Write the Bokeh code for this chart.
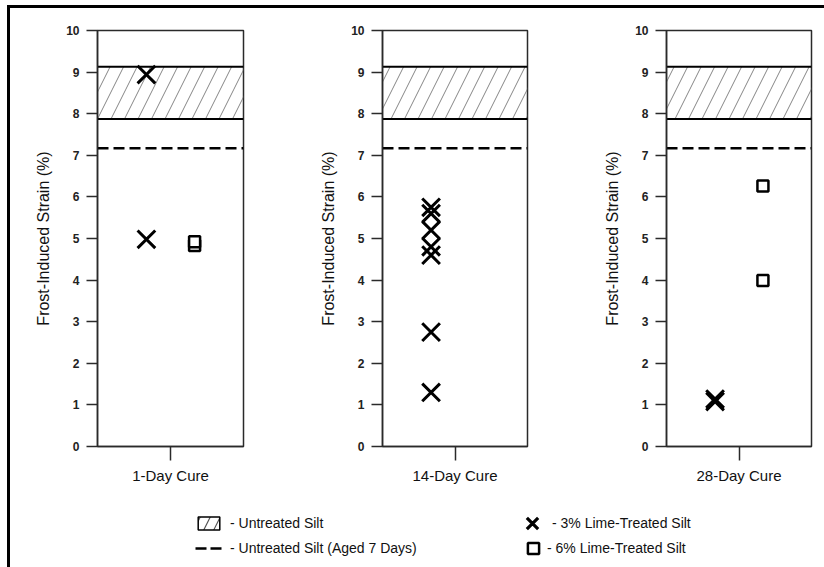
from bokeh.plotting import figure
from bokeh.models import (FactorRange, Range1d, FixedTicker, Span, BoxAnnotation,
                          Legend, LegendItem, Spacer, ColumnDataSource)
from bokeh.layouts import row, column
from bokeh.transform import dodge
from bokeh.embed import file_html
from bokeh.resources import INLINE

# ---------------- data ----------------
cures = ["1-Day Cure", "14-Day Cure", "28-Day Cure"]
y_ticks = [0, 1, 2, 3, 4, 5, 6, 7, 8, 9, 10]

lime3_1day = [8.94, 4.98]
lime3_14day = [5.75, 5.6, 5.2, 4.8, 4.6, 2.75, 1.3]
lime3_28day = [1.08, 1.14]

lime6_1day = [4.83, 4.92]
lime6_14day = []
lime6_28day = [6.26, 3.99]

untreated_low = 7.87
untreated_high = 9.13
untreated_aged = 7.17

legend_labels = ["- Untreated Silt", "- Untreated Silt (Aged 7 Days)",
                 "- 3% Lime-Treated Silt", "- 6% Lime-Treated Silt"]
y_label = "Frost-Induced Strain (%)"

lime3 = [lime3_1day, lime3_14day, lime3_28day]
lime6 = [lime6_1day, lime6_14day, lime6_28day]

FONT = "Liberation Sans"
AX = "#2a2a2a"

def panel(i, width, left, right):
    cure = cures[i]
    p = figure(width=width, height=487, x_range=FactorRange(factors=[cure]),
               y_range=Range1d(0, 10), output_backend="svg", toolbar_location=None,
               min_border_left=left, min_border_right=right,
               min_border_top=22, min_border_bottom=49)
    p.xgrid.visible = False
    p.ygrid.visible = False
    p.outline_line_color = AX
    p.outline_line_width = 1.5
    p.background_fill_color = "white"
    p.border_fill_color = "white"

    # untreated band and aged line
    p.add_layout(BoxAnnotation(bottom=untreated_low, top=untreated_high,
                               fill_alpha=0, line_alpha=0, hatch_pattern="/",
                               hatch_color="#777777", hatch_weight=0.9,
                               hatch_scale=27, level="underlay"))
    for loc in (untreated_low, untreated_high):
        p.add_layout(Span(location=loc, dimension="width", line_color="black",
                          line_width=2, level="underlay"))
    p.add_layout(Span(location=untreated_aged, dimension="width", line_color="black",
                      line_width=2.5, line_dash="11 5", level="underlay"))

    if lime3[i]:
        s3 = ColumnDataSource(dict(cure=[cure] * len(lime3[i]), strain=lime3[i]))
        p.scatter(x=dodge("cure", -0.165, range=p.x_range), y="strain", source=s3,
                  marker="x", size=25, line_color="black", line_width=3)
    if lime6[i]:
        s6 = ColumnDataSource(dict(cure=[cure] * len(lime6[i]), strain=lime6[i]))
        p.scatter(x=dodge("cure", 0.165, range=p.x_range), y="strain", source=s6,
                  marker="square", size=11, line_color="black", line_width=2.5,
                  fill_color="white")

    ya = p.yaxis[0]
    ya.ticker = FixedTicker(ticks=y_ticks)
    ya.minor_tick_line_color = None
    ya.major_tick_in = 0
    ya.major_tick_out = 11
    ya.major_tick_line_color = AX
    ya.major_tick_line_width = 1.5
    ya.axis_line_color = AX
    ya.axis_line_width = 1.5
    ya.major_label_standoff = 7
    ya.major_label_text_font = FONT
    ya.major_label_text_font_size = "12px"
    ya.major_label_text_font_style = "bold"
    ya.major_label_text_color = "#222222"
    ya.axis_label = y_label
    ya.axis_label_text_font = FONT
    ya.axis_label_text_font_size = "16px"
    ya.axis_label_text_font_style = "normal"
    ya.axis_label_text_color = "#111111"
    ya.axis_label_standoff = 11

    xa = p.xaxis[0]
    xa.major_tick_in = 0
    xa.major_tick_out = 14
    xa.major_tick_line_color = AX
    xa.major_tick_line_width = 1.5
    xa.axis_line_color = AX
    xa.axis_line_width = 1.5
    xa.major_label_standoff = 6
    xa.major_label_text_font = FONT
    xa.major_label_text_font_size = "15px"
    xa.major_label_text_color = "#111111"
    return p

p1 = panel(0, 280, 87, 47)
p2 = panel(1, 284, 92, 47)
p3 = panel(2, 250, 92, 13)

# ---------------- legend area ----------------
lf = figure(width=814, height=72, x_range=Range1d(0, 1), y_range=Range1d(0, 1),
            output_backend="svg", toolbar_location=None, min_border=0)
lf.axis.visible = False
lf.xgrid.visible = False
lf.ygrid.visible = False
lf.outline_line_color = None

# legend-only renderers: one sample each, kept outside the visible range
r_hatch = lf.quad(left=[-3], right=[-2], top=[-2], bottom=[-3], fill_color="white",
                  hatch_pattern="/", hatch_color="#555555", hatch_weight=1.2,
                  hatch_scale=20, line_color="black", line_width=1.5)
r_dash = lf.line(x=[-3, -2], y=[-3, -3], line_color="black", line_width=2.5,
                 line_dash="11 4")
r_x = lf.scatter(x=[-3], y=[-3], marker="x", line_color="black", line_width=3.2)
r_sq = lf.scatter(x=[-3], y=[-3], marker="square", line_color="black", line_width=2.5,
                  fill_color="white")

def style_legend(lg):
    lg.padding = 0
    lg.border_line_color = None
    lg.background_fill_alpha = 0
    lg.label_text_font = FONT
    lg.label_text_font_size = "14px"
    lg.label_text_color = "#111111"
    return lg

leg1 = style_legend(Legend(items=[LegendItem(label=legend_labels[0], renderers=[r_hatch]),
                                  LegendItem(label=legend_labels[1], renderers=[r_dash])],
                           location=(185, 11)))
leg1.glyph_width = 27
leg1.glyph_height = 16
leg1.label_height = 16
leg1.spacing = 9
leg1.label_standoff = 8

leg2 = style_legend(Legend(items=[LegendItem(label=legend_labels[2], renderers=[r_x])],
                           location=(502, 20)))
leg2.glyph_width = 40
leg2.glyph_height = 48
leg2.label_height = 48
leg2.label_standoff = 0

leg3 = style_legend(Legend(items=[LegendItem(label=legend_labels[3], renderers=[r_sq])],
                           location=(509, 5)))
leg3.glyph_width = 28
leg3.glyph_height = 28
leg3.label_height = 28
leg3.label_standoff = 0

for lg in (leg1, leg2, leg3):
    lf.add_layout(lg)

# ---------------- page frame ----------------
black = {"background-color": "black"}
layout = column(
    Spacer(width=824, height=5),
    row(Spacer(width=7, height=3), Spacer(width=817, height=3, styles=black)),
    row(Spacer(width=7, height=559), Spacer(width=3, height=559, styles=black),
        column(row(p1, p2, p3), lf)),
)

with open("out.html", "w") as f:
    f.write(file_html(layout, INLINE))
